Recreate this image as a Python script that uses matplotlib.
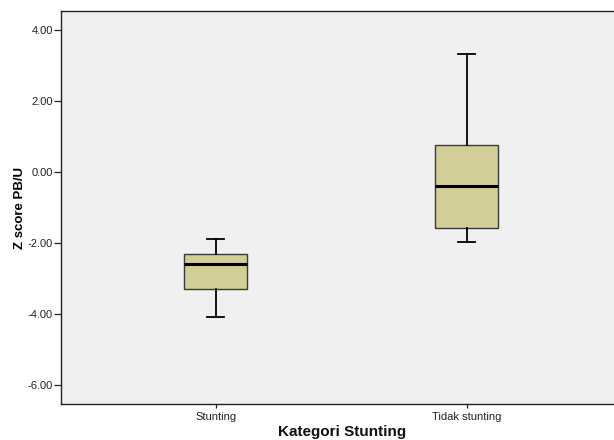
import matplotlib
matplotlib.use("Agg")
import matplotlib.pyplot as plt

categories = ["Stunting", "Tidak stunting"]
whisker_low = [-4.09, -1.96]
q1 = [-3.29, -1.58]
median = [-2.59, -0.39]
q3 = [-2.32, 0.77]
whisker_high = [-1.88, 3.32]
y_ticks = [4.0, 2.0, 0.0, -2.0, -4.0, -6.0]

plt.rcParams["font.family"] = ["Liberation Sans", "DejaVu Sans"]

fig = plt.figure(figsize=(6.14, 4.40), dpi=100)
ax = fig.add_axes([61 / 614, 1 - 404 / 440, 553 / 614, 393 / 440])
ax.set_facecolor("#f0f0f0")

stats = []
for i, name in enumerate(categories):
    stats.append(dict(label=name, whislo=whisker_low[i], q1=q1[i], med=median[i],
                      q3=q3[i], whishi=whisker_high[i], fliers=[]))

ax.bxp(stats, positions=[1, 2], widths=0.25, patch_artist=True, showfliers=False,
       boxprops=dict(facecolor="#d3ce97", edgecolor="#3a3a3a", linewidth=1.0),
       medianprops=dict(color="black", linewidth=2.2),
       whiskerprops=dict(color="black", linewidth=1.3),
       capprops=dict(color="black", linewidth=1.3),
       capwidths=0.065)

ax.set_xlim(0.384, 2.587)
ax.set_ylim(-6.535, 4.535)
ax.set_yticks(y_ticks)
ax.set_yticklabels([f"{v:.2f}" for v in y_ticks])
ax.set_xticks([1, 2])
ax.set_xticklabels(categories)

ax.spines["right"].set_visible(False)
for side in ("left", "bottom", "top"):
    ax.spines[side].set_color("#222222")
    ax.spines[side].set_linewidth(1.0)

ax.tick_params(axis="y", labelsize=8, length=5, width=0.9, color="#222222",
               labelcolor="#222222", pad=1)
ax.tick_params(axis="x", labelsize=8, length=3, width=0.9, color="#222222",
               labelcolor="#222222", pad=3)

ax.set_ylabel("Z score PB/U", fontsize=9.5, fontweight="bold")
ax.yaxis.set_label_coords(-35 / 553, 0.5)
fig.text(342 / 614, 4 / 440, "Kategori Stunting", fontsize=11, fontweight="bold",
         ha="center", va="baseline", color="#111111")

fig.savefig("out.png", dpi=100)
